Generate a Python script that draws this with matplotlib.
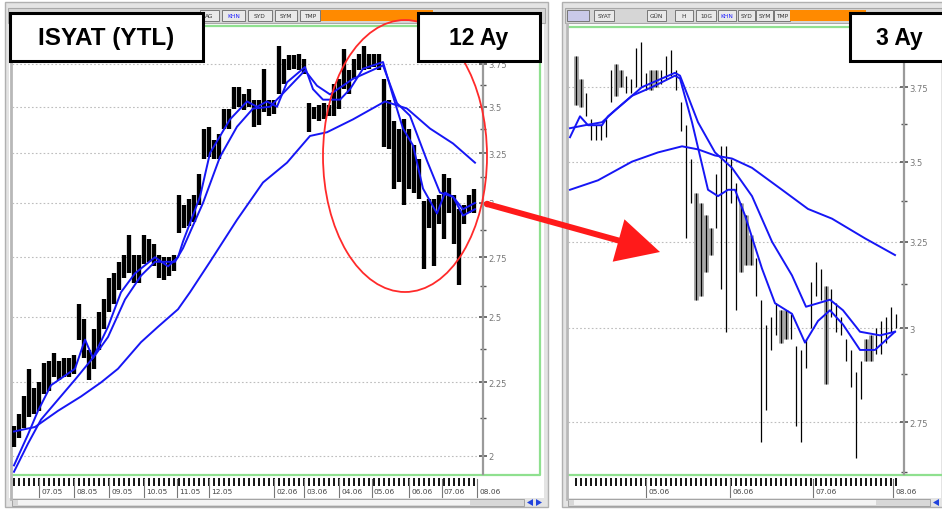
import matplotlib.pyplot as plt
import matplotlib.patches as mpatches
from matplotlib.ticker import NullFormatter
from matplotlib.transforms import blended_transform_factory

# ── 1. Dados: painel esquerdo (12 meses) ─────────────────────────────────────
left_high = [2.10, 2.14, 2.20, 2.30, 2.23, 2.25, 2.32, 2.33, 2.36, 2.33,
             2.34, 2.34, 2.35, 2.55, 2.49, 2.37, 2.45, 2.52, 2.57, 2.66,
             2.68, 2.73, 2.76, 2.85, 2.76, 2.76, 2.85, 2.83, 2.81, 2.76,
             2.75, 2.75, 2.76, 3.04, 2.99, 3.02, 3.04, 3.14, 3.38, 3.39,
             3.32, 3.35, 3.49, 3.49, 3.61, 3.61, 3.57, 3.60, 3.54, 3.54,
             3.72, 3.54, 3.54, 3.86, 3.78, 3.80, 3.80, 3.81, 3.78, 3.52,
             3.50, 3.51, 3.52, 3.51, 3.63, 3.66, 3.84, 3.71, 3.78, 3.81,
             3.86, 3.81, 3.81, 3.81, 3.66, 3.54, 3.42, 3.38, 3.43, 3.38,
             3.29, 3.22, 3.01, 3.02, 3.02, 3.04, 3.14, 3.12, 3.04, 2.97,
             2.99, 3.04, 3.07]
left_low = [2.03, 2.06, 2.09, 2.13, 2.14, 2.15, 2.21, 2.22, 2.27, 2.26,
            2.27, 2.27, 2.28, 2.41, 2.34, 2.26, 2.30, 2.37, 2.45, 2.52,
            2.55, 2.61, 2.66, 2.68, 2.64, 2.64, 2.72, 2.73, 2.71, 2.66,
            2.65, 2.67, 2.69, 2.86, 2.88, 2.89, 2.91, 2.99, 3.22, 3.23,
            3.22, 3.22, 3.38, 3.38, 3.49, 3.50, 3.48, 3.50, 3.39, 3.40,
            3.47, 3.45, 3.46, 3.57, 3.63, 3.71, 3.72, 3.71, 3.69, 3.36,
            3.43, 3.42, 3.43, 3.45, 3.45, 3.49, 3.60, 3.57, 3.66, 3.71,
            3.71, 3.72, 3.73, 3.71, 3.28, 3.27, 3.07, 3.10, 2.99, 3.07,
            3.05, 3.02, 2.70, 2.88, 2.71, 2.90, 2.83, 2.95, 2.81, 2.63,
            2.90, 2.95, 2.95]

left_fast_x = [0, 2.8, 4.8, 7.4, 12.2, 14.2, 15.8, 18.8, 21.4, 24.2, 28.2,
               30.8, 32.8, 33.8, 37.2, 39.2, 43.2, 46.6, 48.6, 50.6, 52.6,
               54.6, 58.2, 59.8, 61.8, 65.2, 67.2, 69.8, 73.8, 75.8, 77.8,
               79.8, 81.8, 84.6, 86.2, 87.8, 89.8, 92.2]
left_fast = [1.97, 2.07, 2.15, 2.24, 2.30, 2.41, 2.34, 2.46, 2.60, 2.68, 2.75,
             2.71, 2.75, 2.82, 3.03, 3.25, 3.43, 3.53, 3.50, 3.53, 3.50,
             3.64, 3.73, 3.60, 3.54, 3.54, 3.60, 3.72, 3.76, 3.56, 3.38,
             3.29, 3.07, 2.95, 3.05, 3.03, 2.94, 2.97]
left_mid_x = [0, 2.8, 5.4, 12.2, 16.2, 18.8, 22.2, 25.4, 28.2, 32.2, 33.8,
              37.8, 41.2, 44.6, 47.8, 51.2, 54.6, 58.2, 60.6, 63.2, 67.8,
              73.8, 76.6, 79.2, 82.6, 85.2, 87.8, 89.8, 92.2]
left_mid = [1.95, 2.04, 2.12, 2.26, 2.35, 2.42, 2.57, 2.67, 2.73, 2.73, 2.79,
            3.00, 3.23, 3.39, 3.49, 3.50, 3.60, 3.71, 3.62, 3.57, 3.66,
            3.74, 3.52, 3.45, 3.21, 3.05, 3.03, 2.97, 3.00]
left_slow_x = [0, 4.2, 8.8, 13.4, 17.4, 20.8, 25.4, 28.8, 32.8, 35.2, 39.2,
               44.6, 49.8, 54.6, 59.2, 62.6, 67.8, 74.2, 78.6, 83.2, 87.8, 92.2]
left_slow = [2.08, 2.095, 2.15, 2.20, 2.25, 2.30, 2.40, 2.46, 2.53, 2.60, 2.73,
             2.92, 3.10, 3.20, 3.34, 3.36, 3.43, 3.53, 3.49, 3.38, 3.30, 3.20]

left_dates = ["07.05", "08.05", "09.05", "10.05", "11.05", "12.05",
              "02.06", "03.06", "04.06", "05.06", "06.06", "07.06", "08.06"]
left_date_pos = [5, 12, 19, 26, 32.5, 39, 52, 58, 65, 71.5, 79, 85.5, 92.5]

# ── 2. Dados: painel direito (3 meses) ───────────────────────────────────────
right_high = [3.86, 3.78, 3.73, 3.64, 3.62, 3.62, 3.64, 3.81, 3.83, 3.81,
              3.79, 3.78, 3.89, 3.91, 3.80, 3.81, 3.81, 3.81, 3.86, 3.88,
              3.81, 3.70, 3.62, 3.51, 3.40, 3.37, 3.33, 3.29, 3.46, 3.55,
              3.55, 3.51, 3.43, 3.37, 3.33, 3.27, 3.20, 3.08, 3.01, 3.03,
              3.07, 3.05, 3.05, 3.04, 2.95, 2.94, 2.97, 3.13, 3.19, 3.17,
              3.12, 3.11, 3.07, 3.03, 2.97, 2.94, 2.88, 2.91, 2.97, 2.98,
              3.00, 3.02, 3.03, 3.06, 3.04]
right_low = [3.69, 3.68, 3.65, 3.57, 3.57, 3.57, 3.58, 3.70, 3.72, 3.75,
             3.73, 3.73, 3.75, 3.75, 3.74, 3.74, 3.75, 3.76, 3.78, 3.79,
             3.74, 3.60, 3.26, 3.37, 3.08, 3.09, 3.16, 3.21, 3.29, 3.11,
             2.99, 3.37, 3.05, 3.16, 3.18, 3.18, 3.09, 2.70, 2.78, 2.94,
             2.98, 2.96, 2.97, 2.97, 2.74, 2.70, 2.89, 3.00, 3.09, 3.08,
             2.85, 3.03, 2.99, 2.98, 2.91, 2.84, 2.66, 2.81, 2.91, 2.91,
             2.93, 2.93, 2.96, 2.99, 3.00]
right_gray = [0, 1, 8, 9, 15, 16, 24, 25, 26, 27, 33, 34, 35, 41, 42, 50, 58, 59]

right_fast_x = [-1.2, 0.8, 2.4, 5.2, 6.4, 11.2, 15.2, 19.8, 20.8, 23.2, 26.4,
                28.4, 30.4, 31.8, 33.8, 37.2, 39.8, 43.2, 45.8, 48.4, 50.8,
                53.4, 56.8, 59.8, 63.8]
right_fast = [3.58, 3.65, 3.62, 3.62, 3.65, 3.72, 3.75, 3.79, 3.78, 3.63, 3.41,
              3.39, 3.41, 3.41, 3.33, 3.17, 3.07, 3.04, 2.96, 3.02, 3.05,
              3.01, 2.94, 2.94, 2.99]
right_mid_x = [-1.2, 1.8, 5.2, 7.8, 13.2, 19.8, 20.8, 24.4, 27.8, 31.2, 35.2,
               39.2, 43.2, 46.0, 50.8, 53.4, 56.8, 60.8, 63.8]
right_mid = [3.61, 3.62, 3.63, 3.67, 3.75, 3.80, 3.79, 3.63, 3.53, 3.48, 3.39,
             3.25, 3.15, 3.06, 3.08, 3.05, 2.99, 2.98, 2.99]
right_slow_x = [-1.2, 4.4, 11.2, 16.4, 21.2, 24.4, 27.8, 31.2, 35.2, 41.2,
                46.4, 51.2, 57.8, 63.8]
right_slow = [3.41, 3.44, 3.50, 3.53, 3.55, 3.54, 3.52, 3.51, 3.48, 3.41,
              3.35, 3.32, 3.26, 3.21]

right_dates = ["05.06", "06.06", "07.06", "08.06"]
right_date_pos = [14, 30.8, 47.4, 63.4]

# ── 3. Estilo ────────────────────────────────────────────────────────────────
BLUE = "#1616f5"
GRAY_LINE = "#9a9a9a"
GREEN = "#8fe08f"
W, H = 942, 510

plt.rcParams.update({"font.family": "DejaVu Sans"})
fig = plt.figure(figsize=(W / 100, H / 100), dpi=100)
fig.patch.set_facecolor("white")


def px_box(x0, y0, x1, y1):
    # caixa em pixels (origem no canto superior esquerdo) -> fração da figura
    return [x0 / W, 1 - y1 / H, (x1 - x0) / W, (y1 - y0) / H]


# ── 4. Moldura das janelas (fundo) ───────────────────────────────────────────
bg = fig.add_axes([0, 0, 1, 1], zorder=0)
bg.set_xlim(0, W)
bg.set_ylim(H, 0)
bg.axis("off")

for (x0, x1) in [(5, 548), (562, 945)]:
    bg.add_patch(mpatches.Rectangle((x0, 3), x1 - x0, 505, fc="#e4e4e4", ec="#b0b0b0", lw=1))
    bg.add_patch(mpatches.Rectangle((x0 + 4, 25), x1 - x0 - 8, 474, fc="white", ec="none"))
    bg.add_patch(mpatches.Rectangle((x0 + 3, 9), x1 - x0 - 6, 15, fc="#d6d6d6", ec="#a8a8a8", lw=0.8))

# barras de ferramentas
buttons_left = [("AG", 200, 219), ("KHN", 222, 245), ("SYD", 248, 272), ("SYM", 275, 297), ("TMP", 300, 320)]
buttons_right = [("SYAT", 594, 614), ("GÜN", 647, 666), ("H", 675, 693), ("10G", 696, 716),
                 ("KHN", 718, 736), ("SYD", 738, 755), ("SYM", 756, 773), ("TMP", 774, 790)]
for name, x0, x1 in buttons_left + buttons_right:
    bg.add_patch(mpatches.Rectangle((x0, 11), x1 - x0, 11, fc="#e9e9e9", ec="#777", lw=0.7))
    bg.text((x0 + x1) / 2, 16.5, name, fontsize=4.2, ha="center", va="center",
            color="#2222ff" if name == "KHN" else "#333")
bg.add_patch(mpatches.Rectangle((321, 11), 112, 11, fc="#ff8a00", ec="none"))
bg.add_patch(mpatches.Rectangle((790, 11), 76, 11, fc="#ff8a00", ec="none"))
bg.add_patch(mpatches.Rectangle((567, 11), 22, 11, fc="#c9c9e9", ec="#777", lw=0.7))

# bordas verdes da área de plotagem
bg.plot([12, 540, 540, 12], [27, 27, 476, 476], color=GREEN, lw=1.6)
bg.plot([568, 942], [28, 28], color=GREEN, lw=1.6)
bg.plot([568, 942], [476, 476], color=GREEN, lw=1.6)
bg.plot([10.5, 10.5], [25, 500], color="#b8b8b8", lw=2)
bg.plot([567, 567], [25, 500], color="#b8b8b8", lw=2)

# barras de rolagem
for (x0, x1, xa) in [(12, 524, 527), (568, 930, 933)]:
    bg.add_patch(mpatches.Rectangle((x0, 500), x1 - x0, 7, fc="#d8d8d8", ec="#999", lw=0.6))
    bg.add_patch(mpatches.Rectangle((x0 + 6, 501), x1 - x0 - 60, 5, fc="#f4f4f4", ec="none"))
    bg.add_patch(mpatches.Polygon([[xa, 503.5], [xa + 6, 500], [xa + 6, 507]], fc="#2244dd"))
    bg.add_patch(mpatches.Polygon([[xa + 15, 503.5], [xa + 9, 500], [xa + 9, 507]], fc="#2244dd"))


# ── 5. Eixos de preço ────────────────────────────────────────────────────────
def style_price_axis(ax, ticks, labels, minor, xlim, ylim):
    ax.set_facecolor("none")
    ax.set_yscale("log")
    ax.set_xlim(*xlim)
    ax.set_ylim(*ylim)
    ax.yaxis.tick_right()
    ax.set_yticks(ticks, labels)
    ax.set_yticks(minor, minor=True)
    ax.yaxis.set_minor_formatter(NullFormatter())
    ax.tick_params(axis="y", which="major", direction="inout", length=6, width=1.2,
                   color="#555", labelsize=6, labelcolor="#777", pad=1)
    ax.tick_params(axis="y", which="minor", direction="inout", length=4, width=1, color="#555")
    ax.set_xticks([])
    for s in ["top", "left", "bottom"]:
        ax.spines[s].set_visible(False)
    ax.spines["right"].set_color(GRAY_LINE)
    ax.spines["right"].set_linewidth(1.6)
    ax.grid(axis="y", which="major", ls=(0, (1.5, 2)), color="#bdbdbd", lw=0.8)
    ax.set_axisbelow(True)


def date_row(ax, n_bars, dates, positions):
    tr = blended_transform_factory(ax.transData, ax.transAxes)
    ax.vlines(range(n_bars), -0.027, -0.010, transform=tr, color="black", lw=1.3, clip_on=False)
    for lab, pos in zip(dates, positions):
        ax.plot([pos, pos], [-0.012, -0.052], transform=tr, color="#777", lw=0.8, clip_on=False)
        ax.text(pos + 0.5, -0.037, lab, transform=tr, fontsize=5.3, color="#444",
                ha="left", va="center", clip_on=False)


ax1 = fig.add_axes(px_box(12, 26, 483, 475), zorder=1)
ax2 = fig.add_axes(px_box(568, 26, 904, 475), zorder=1)

style_price_axis(ax1, [2, 2.25, 2.5, 2.75, 3, 3.25, 3.5, 3.75],
                 ["2", "2.25", "2.5", "2.75", "3", "3.25", "3.5", "3.75"],
                 [2.125, 2.375, 2.625, 2.875, 3.125, 3.375, 3.625, 3.875],
                 (-0.4, 93.8), (1.943, 3.99))
style_price_axis(ax2, [2.75, 3, 3.25, 3.5, 3.75],
                 ["2.75", "3", "3.25", "3.5", "3.75"],
                 [2.625, 2.875, 3.125, 3.375, 3.625, 3.875],
                 (-1.6, 65.6), (2.621, 3.972))

# barras de preço
ax1.vlines(range(len(left_high)), left_low, left_high, color="black", lw=3.1)
ax2.vlines(right_gray, [right_low[j] for j in right_gray], [right_high[j] for j in right_gray],
           color="#a9a9a9", lw=3.6)
ax2.vlines(range(len(right_high)), right_low, right_high, color="black", lw=0.9)

# médias móveis
for ax, series in [(ax1, [(left_fast_x, left_fast), (left_mid_x, left_mid), (left_slow_x, left_slow)]),
                   (ax2, [(right_fast_x, right_fast), (right_mid_x, right_mid), (right_slow_x, right_slow)])]:
    for xs, ys in series:
        ax.plot(xs, ys, color=BLUE, lw=1.4)

date_row(ax1, len(left_high), left_dates, left_date_pos)
date_row(ax2, len(right_high), right_dates, right_date_pos)

# ── 6. Anotações (elipse, seta e rótulos) ────────────────────────────────────
top = fig.add_axes([0, 0, 1, 1], zorder=3)
top.set_xlim(0, W)
top.set_ylim(H, 0)
top.axis("off")

top.add_patch(mpatches.Ellipse((405, 157), 164, 272, fill=False, ec="#ff2a2a", lw=1.3))
top.add_patch(mpatches.FancyArrow(487, 205, 173, 48, width=6, head_width=44, head_length=43,
                                  length_includes_head=True, fc="#ff1a1a", ec="none"))
top.add_patch(mpatches.Circle((487, 205), 3.2, fc="#ff1a1a", ec="none"))

for text, x0, x1, size in [("ISYAT (YTL)", 10, 203, 17.5), ("12 Ay", 418, 540, 16.5), ("3 Ay", 850, 950, 16.5)]:
    top.add_patch(mpatches.Rectangle((x0, 14), x1 - x0, 48, fc="white", ec="black", lw=2.2))
    cx = (x0 + x1) / 2 if x1 < W else 899
    top.text(cx, 39, text, fontsize=size, fontweight="bold", family="Liberation Sans",
             ha="center", va="center", color="black")

plt.savefig("out.png", dpi=100)
